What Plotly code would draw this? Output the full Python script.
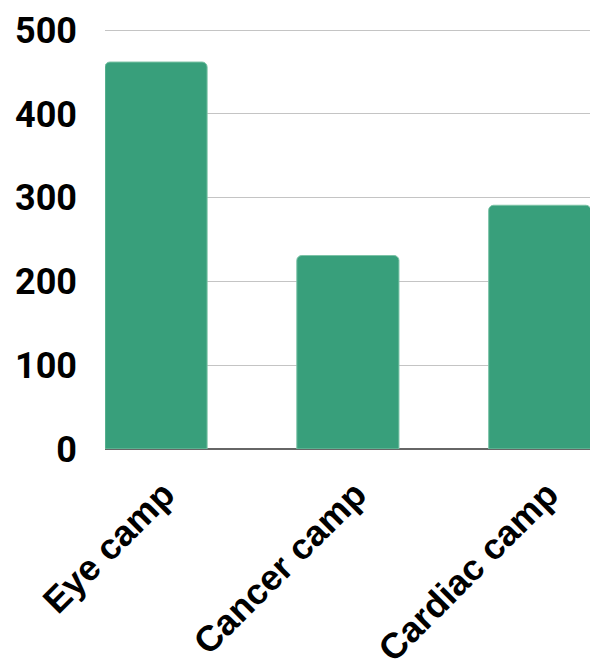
import plotly.graph_objects as go

categories = ["Eye camp", "Cancer camp", "Cardiac camp"]
values = [462, 231, 291]
y_ticks = [0, 100, 200, 300, 400, 500]

fig = go.Figure(go.Bar(
    x=categories, y=values,
    marker=dict(color="#389f7b", line=dict(width=1, color="#7cc3a7")),
    width=0.5325,
))
fig.update_layout(
    width=590, height=669,
    margin=dict(l=105, r=0, t=26, b=217),
    paper_bgcolor="white", plot_bgcolor="white",
    barcornerradius=5,
    showlegend=False,
)
fig.update_xaxes(
    range=[-0.266, 2.262],
    tickangle=-45,
    tickfont=dict(family="Liberation Sans", size=36, color="black", weight="bold"),
    showgrid=False, showline=False, zeroline=False,
    ticks="", ticklabelstandoff=16, ticklabelshift=8,
)
fig.update_yaxes(
    range=[0, 505], tickvals=y_ticks,
    tickfont=dict(family="Roboto", size=36, color="black", weight="bold"),
    showgrid=True, gridcolor="#c4c4c4", gridwidth=1,
    zeroline=True, zerolinecolor="#666666", zerolinewidth=2,
    showline=False, ticks="", ticklabelstandoff=27,
)
fig.write_html("out.html", config={"displayModeBar": False},
               post_script="document.body.style.margin='0';document.body.style.overflow='hidden';")
